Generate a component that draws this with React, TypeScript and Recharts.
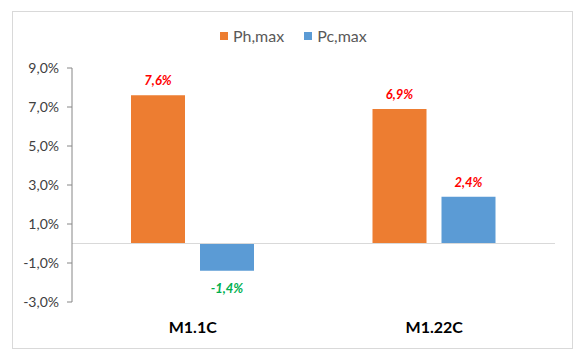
import React from 'react';
import {
  BarChart,
  Bar,
  XAxis,
  YAxis,
  ReferenceLine,
  LabelList,
} from 'recharts';

const categories = ['M1.1C', 'M1.22C'];
const phMax = [7.6, 6.9];
const pcMax = [-1.4, 2.4];
const yTicks = [-3, -1, 1, 3, 5, 7, 9];

const ORANGE = '#ED7D31';
const BLUE = '#5B9BD5';
const FONT = 'Lato, "Open Sans", sans-serif';

const data = categories.map((name, i) => ({ name, ph: phMax[i], pc: pcMax[i] }));

const fmt = (v: number) => v.toFixed(1).replace('.', ',') + '%';

// value label above positive bars (red), below negative bars (green)
const renderLabel = (props: any) => {
  const { x, y, width, height, value } = props;
  const negative = value < 0;
  const cx = x + width / 2;
  const top = Math.min(y, y + height);
  const bottom = Math.max(y, y + height);
  const cy = negative ? bottom + 17 : top - 15;
  return (
    <text
      x={cx}
      y={cy}
      textAnchor="middle"
      dominantBaseline="central"
      fontFamily={FONT}
      fontSize={13}
      fontWeight="bold"
      fontStyle="italic"
      fill={negative ? '#00B050' : '#FF0000'}
    >
      {fmt(value)}
    </text>
  );
};

const legendItems = [
  { label: 'Ph,max', color: ORANGE },
  { label: 'Pc,max', color: BLUE },
];

export default function App() {
  return (
    <div style={{ position: 'absolute', left: 0, top: 0, width: 580, height: 353, background: '#fff' }}>
      <style>{`body{margin:0}`}</style>
      <div
        style={{
          position: 'absolute',
          left: 12,
          top: 11,
          width: 559,
          height: 336,
          border: '1px solid #d9d9d9',
        }}
      />
      <div
        style={{
          position: 'absolute',
          left: 220,
          top: 28,
          display: 'flex',
          fontFamily: FONT,
          fontSize: 16,
          color: '#595959',
          lineHeight: '16px',
        }}
      >
        {legendItems.map((it, i) => (
          <div key={it.label} style={{ display: 'flex', alignItems: 'center', marginLeft: i ? 20 : 0 }}>
            <span style={{ width: 8, height: 8, background: it.color, display: 'inline-block', marginRight: 5 }} />
            {it.label}
          </div>
        ))}
      </div>
      <div style={{ position: 'absolute', left: 0, top: 0 }}>
        <BarChart
          width={580}
          height={353}
          data={data}
          margin={{ top: 68, right: 25, left: 22, bottom: 21 }}
          barSize={54}
          barGap={15}
        >
          <XAxis
            dataKey="name"
            axisLine={false}
            tickLine={false}
            height={30}
            tick={{ fontFamily: FONT, fontSize: 16, fontWeight: 'bold', fill: '#000' }}
            dy={12}
          />
          <YAxis
            domain={[-3, 9]}
            ticks={yTicks}
            width={50}
            tickFormatter={fmt}
            axisLine={{ stroke: '#868686' }}
            tickLine={{ stroke: '#868686' }}
            tickSize={5}
            tick={{ fontFamily: FONT, fontSize: 14, fill: '#404040', dx: -6 }}
          />
          <ReferenceLine y={0} stroke="#d9d9d9" strokeWidth={1} />
          <Bar dataKey="ph" name="Ph,max" fill={ORANGE} isAnimationActive={false}>
            <LabelList dataKey="ph" content={renderLabel} />
          </Bar>
          <Bar dataKey="pc" name="Pc,max" fill={BLUE} isAnimationActive={false}>
            <LabelList dataKey="pc" content={renderLabel} />
          </Bar>
        </BarChart>
      </div>
    </div>
  );
}
